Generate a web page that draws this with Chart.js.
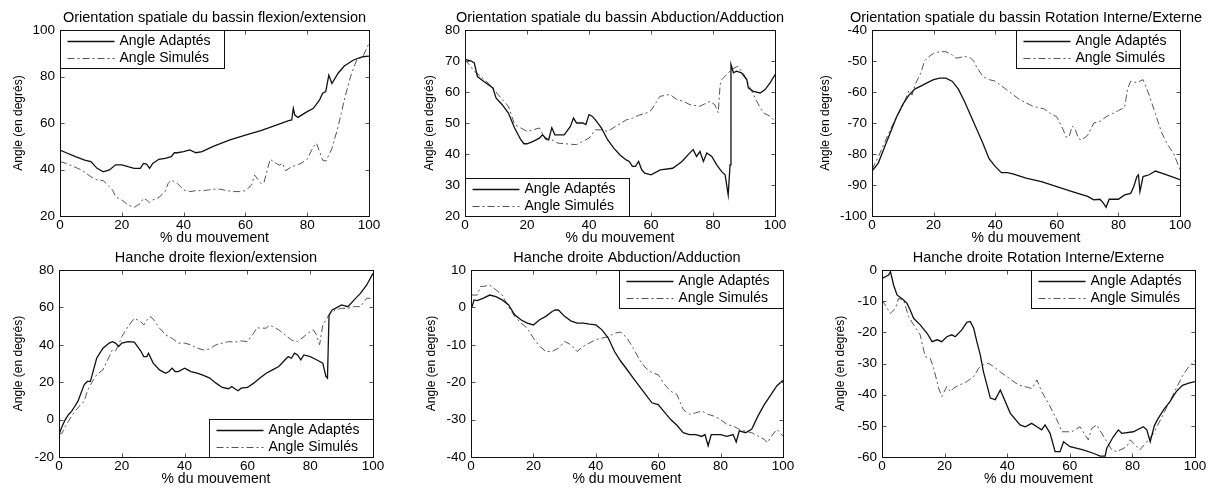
<!DOCTYPE html>
<html lang="fr">
<head>
  <meta charset="UTF-8">
  <title>Orientation spatiale du bassin et hanche droite</title>
  <script src="https://cdn.jsdelivr.net/npm/chart.js"></script>
  <style>
    body { margin: 0; background: #fff; }
    #page { position: relative; width: 1215px; height: 491px; overflow: hidden; }
    #page canvas { position: absolute; }
  </style>
</head>
<body>
<div id="page"></div>

<script>
  // --- data (x = % du mouvement, y = angle en degrés) ---
  const xTicks = [0, 20, 40, 60, 80, 100];
  const seriesLabels = ['Angle Adaptés', 'Angle Simulés'];

  // 1. bassin flexion/extension
  const c1Ticks = [20, 40, 60, 80, 100];
  const c1AdaptX = [0,2,5,8,10,12,14,16,18,20,22,24,26,27,28,29,30,32,34,36,37,38,40,42,44,46,48,50,55,60,65,70,74,75,75.5,76,77,80,82,84,85,86,87,88,90,92,95,98,100];
  const c1AdaptY = [48.4,47.2,45.5,44,43.4,40.5,39,39.8,42,42,41.2,40.5,40.5,42.6,42.3,40.5,42.6,44.4,44.8,45.5,47.2,47.2,47.7,48.4,47.2,47.7,49,50.2,52.7,54.8,56.7,59.1,61,61.3,66.3,63.4,62.4,64.9,66.3,69.9,72.8,73.5,80.6,77,81.4,84.5,87.1,88.5,88.8];
  const c1SimX = [0,2,4,7,10,12,14,16,17,18,20,22,24,26,27,28,29,30,32,34,35,36,38,40,42,44,46,48,50,52,54,56,58,60,62,63,64,65,66,68,70,71,72,73,75,78,80,82,83,85,86,87,88,90,92,94,96,98,100];
  const c1SimY = [43.4,42.6,41.5,39.8,36.9,35.5,35.2,32.6,31.2,28.3,26.9,24.7,23.7,25.4,27.6,26.9,25.7,26.9,28,30.5,34,35.5,34,31.2,30.5,30.9,30.9,31.2,31.5,31.5,30.9,30.5,30.5,30.9,33.3,37.6,35.8,34,34.3,44.4,42.6,41.9,42.6,39.5,41.2,42.6,44.4,49.8,51.3,44,43.6,46.2,49,58.4,69.9,79.9,87.1,88.5,94.3];

  // 2. bassin abduction/adduction
  const c2Ticks = [20, 30, 40, 50, 60, 70, 80];
  const c2AdaptX = [0,2,3,4,6,8,9,10,12,14,16,18,19,20,22,24,25,26,27,28,29,30,32,34,35,36,38,39,40,41,42,44,46,48,50,52,53,54,55,56,57,58,60,63,67,70,72,73.6,74.7,75.8,76.9,78,79.6,81.2,82.8,83.9,84.9,85.5,85.8,86.6,87.6,89.2,90.9,91.4,93,95.2,96.8,98.4,100];
  const c2AdaptY = [70.5,70,69.4,65,63.5,62,61.3,58.1,55.9,53.2,48.4,44.6,43.3,43.3,44.1,45.1,46.2,45.1,44.6,48.5,46.2,46.2,46.2,48.9,51.6,50,50,49.5,52.7,52.2,51.1,48.4,44.6,41.9,39.7,38.1,37.6,36,36,37.6,34.9,33.8,33.3,34.9,35.4,37.6,39.8,41.4,39.2,40.8,37.6,40.3,39.2,36.5,34.3,33.3,26.8,36.5,68.9,66.2,66.7,66.2,64,61.3,60.2,59.7,60.8,62.9,65.6];
  const c2SimX = [0,3,5,8,12,14,16,18,20,22,24,26,28,30,36,38,40,42,44,46,52,54,56,58,60,62.9,66.1,68.3,70.4,72.6,75.8,79,80.6,81.7,82.3,82.8,84.4,86,88,90,92,94.1,96.2,98.4,100];
  const c2SimY = [70.5,66.7,65.1,62.4,57.6,55.4,49.5,48.4,47.3,47.8,48.4,44.6,44.6,43.5,43,44.1,45.1,47.8,47.8,47.3,51,51.5,52.5,53,54,58.6,59.2,57.6,57,55.9,55.4,57,55.9,53.3,62.4,64,65.6,67.3,68.3,65.6,61.3,57,53.3,52.2,50.5];

  // 3. bassin rotation interne/externe
  const c3Ticks = [-100, -90, -80, -70, -60, -50, -40];
  const c3AdaptX = [0,2,4,6,8,10,12,14,16,18,20,22,24,26,28,30,32,34,36,38,40,42,44,46,50,55,60,65,70,72,74,75,76,77,80,82,84,85,86,86.5,87,88,90,92,95,100];
  const c3AdaptY = [-85.5,-83,-78,-73,-68,-64,-61,-59,-58,-57,-56,-55.5,-55.5,-56.5,-59,-63,-67.5,-72,-76.5,-81.5,-84,-86,-86,-86.5,-87.8,-88.9,-90.5,-92.1,-93.7,-94.8,-94.6,-95.7,-97.2,-94.6,-94.6,-93.2,-92.7,-90.5,-87.3,-86.7,-92.1,-87.3,-86.7,-85.5,-86.5,-88.3];
  const c3SimX = [0,2,4,6,8,10,12,13,14,16,17,18,20,22,24,26,27,28,30,32,33,34,36,38,40,42,46,48,50,52,54,56,58,60,62,63,64,65,66,67,68,70,72,74,76,78,80,82,83,84,86,88,90,92,94,96,98,100];
  const c3SimY = [-85,-81,-76.5,-72,-68,-64.5,-59.5,-61,-57.6,-53.5,-50,-49,-47.5,-47,-47,-48,-49,-49,-48.5,-49,-50,-52,-55,-56,-56.5,-58,-61,-62.5,-63.5,-64.5,-65,-65.5,-67,-68,-72,-74.5,-74.5,-71,-72,-75,-75.5,-74,-70,-69.5,-68,-67,-66,-65,-59,-56.5,-57,-56,-61,-67,-73,-77,-80,-85];

  // 4. hanche droite flexion/extension
  const c4Ticks = [-20, 0, 20, 40, 60, 80];
  const c4AdaptX = [0,1,2,3,4,5,6,8,9,10,11,12,13,14,16,17,18,19,20,22,24,26,27,28,28.5,30,32,34,35,36,37,38,40,41,42,44,46,48,50,52,54,55,56,57,58,60,62,64,66,68,70,72,73,74,75,76,77,78,80,82,84,85,85.5,86,87,88,90,92,94,96,98,100];
  const c4AdaptY = [-8,-3.6,0,2.6,4.4,7,9.7,18.6,20.4,20.4,26.6,32.8,35.5,38.2,40.9,41.7,40.9,39.1,40.9,41.7,41.4,36.8,33.7,33.7,35.5,30.2,26.6,24.8,25.7,27.5,25.7,25.7,27.5,26.6,25.7,24.8,23.6,22.2,19.5,17.2,16.5,17.7,16.5,15.4,16.8,17.2,19.5,22.2,24.8,26.6,28.4,32,33.7,32.8,35.5,34.6,32,34.6,33.7,32,30.2,23.1,22.2,56,58.6,59.5,61.3,60.4,64,67.5,72,78.2];
  const c4SimX = [0,1,2,3,4,5,6,7,8,9,10,12,14,15,17,18,19,20,22,24,26,27,28,29,30,32,34,36,38,40,42,44,46,48,50,52,54,56,58,60,62,63,64,66,67,68,70,72,74,76,78,80,81,82,83,84,85,86,88,90,92,94,96,98,100];
  const c4SimY = [-8,-7.2,-3.6,-0.9,1.7,4.4,6.2,8.3,9.7,15.1,18.6,24,26.6,30.2,37.3,36.8,40,44.4,49.8,54.2,52.4,50.6,53.3,55.1,53.8,48.9,45.3,43.5,40.9,40.9,40,38.2,37.3,37.8,40,40.9,41.7,41.4,42.1,41.7,46.2,49.2,48.9,48.9,50.6,49.8,48,45.3,42.6,41.7,44.4,47.1,48,45.3,40,50.6,53.3,56,58.6,59.5,59.5,60.4,60.4,64.9,64.9];

  // 5. hanche droite abduction/adduction
  const c5Ticks = [-40, -30, -20, -10, 0, 10];
  const c5AdaptX = [0,1,2,4,6,8,10,12,14,16,18,20,22,24,26,27,28,30,32,34,36,38,40,42,44,46,48,50,52,54,56,58,60,62,64,66,68,70,72,74,75,76,77,78,80,82,84,85,86,88,90,92,94,96,98,100];
  const c5AdaptY = [-0.7,2,1.8,2.5,3.3,2.9,2,0.7,-2,-3.3,-4.2,-4.7,-3.3,-2.4,-1.1,-0.7,-0.7,-2.4,-3.6,-4.2,-4.2,-4.5,-4.7,-6,-8.2,-11.8,-14.4,-16.6,-18.9,-21.1,-23.3,-25.5,-26,-28,-30,-31.5,-33.5,-34,-34,-34.5,-34,-37,-34,-34,-34,-34.5,-34,-36,-33,-33.5,-32.5,-29,-26,-23.5,-21,-19.5];
  const c5SimX = [0,1,2,3,4,6,8,10,12,14,16,18,20,22,24,26,28,30,32,34,36,38,40,42,44,46,48,50,52,54,56,58,60,62,64,66,68,70,72,74,76,78,80,82,84,86,88,90,92,94,95,96,98,100];
  const c5SimY = [3.3,3.3,3.3,5.6,5.6,6,4.7,3.3,0.2,-2.4,-4.2,-5.5,-8.2,-10.4,-11.8,-11.8,-10.9,-9.1,-10,-11.8,-10.4,-9.5,-8.6,-8.2,-7.8,-6.9,-6.6,-8.2,-10.9,-14,-16.2,-17.5,-18,-20.6,-22.4,-23.3,-27.3,-28.6,-28.2,-27.7,-28.6,-29.1,-30,-31.3,-31.7,-32.6,-33.1,-33.5,-34.4,-35.3,-36.2,-34.8,-32.6,-34.4];

  // 6. hanche droite rotation interne/externe
  const c6Ticks = [-60, -50, -40, -30, -20, -10, 0];
  const c6AdaptX = [0,2.1,2.7,3.7,4.8,6.9,8,9,10.1,12.2,14.4,16,17.6,19.1,20.7,22.3,23.4,25.5,27.1,28.2,29.3,30.3,31.4,32.4,33.5,34.6,36.2,37.8,41,44.1,45.8,47.8,49.5,51,52.1,53.7,55.3,56.9,58,60.1,64.3,67.5,69.7,71.3,71.8,73.9,75.5,76.6,80.3,83.5,84.6,85.7,87,88,90,92,94,96,98,100];
  const c6AdaptY = [-2.7,-1.6,-0.5,-4.8,-8,-9.6,-10.7,-12.8,-15.5,-17.6,-20.3,-23,-22.4,-23,-21.4,-20.8,-21.4,-19.2,-16.8,-16.5,-18.7,-23,-27.2,-32.6,-36.8,-41.1,-41.6,-38.5,-46,-49.7,-50.3,-49.2,-50.3,-51.3,-49.7,-52.4,-58.3,-58.3,-55.1,-56.7,-57.7,-58.8,-59.7,-59.7,-57.2,-53.5,-51.3,-52.4,-51.9,-50.3,-51.3,-55.1,-50,-48,-44.8,-42.2,-39,-37,-36.3,-35.8];
  const c6SimX = [0,2.7,4.3,5.3,6.9,8.5,10.1,12.2,13.8,15.4,16.5,18.1,19.1,20.7,21.8,22.9,25,27.1,29.3,30.9,32.4,34,35.6,38.3,39.9,43.6,47.9,49.5,51,53.2,54.8,56.4,57.4,60.6,63.3,65.9,67,68.6,71.8,73.4,75,78.2,79.3,82.4,85.1,87,88,90,92,94,96,98,100];
  const c6SimY = [-9.6,-13.9,-12.3,-9.1,-9.6,-14.9,-17.6,-20.8,-27.8,-28.3,-31.5,-37.9,-40.6,-37.4,-39,-37.9,-36.8,-35.8,-34.2,-31.5,-30.4,-29.9,-31,-33.1,-34.2,-36.9,-38,-35.3,-39,-42.8,-46,-49.2,-51.9,-51.9,-50.3,-54.5,-50.8,-49.7,-55.1,-57.7,-58.3,-56.7,-54.5,-57.7,-54.5,-52,-50,-46,-42,-38,-34,-31,-29];

  // --- layout: plot box [left, top, right, bottom] in page pixels ---
  const panels = [
    { title: 'Orientation spatiale du bassin flexion/extension', box: [60, 30, 369, 216], ticks: c1Ticks, legend: 'tl', yGap: 41, adapt: [c1AdaptX, c1AdaptY], sim: [c1SimX, c1SimY] },
    { title: 'Orientation spatiale du bassin Abduction/Adduction', box: [465, 30, 775, 216], ticks: c2Ticks, legend: 'bl', yGap: 35, adapt: [c2AdaptX, c2AdaptY], sim: [c2SimX, c2SimY] },
    { title: 'Orientation spatiale du bassin Rotation Interne/Externe', box: [872, 30, 1180, 216], ticks: c3Ticks, legend: 'tr', yGap: 46, adapt: [c3AdaptX, c3AdaptY], sim: [c3SimX, c3SimY] },
    { title: 'Hanche droite flexion/extension', box: [59, 270, 373, 457], ticks: c4Ticks, legend: 'br', yGap: 40, adapt: [c4AdaptX, c4AdaptY], sim: [c4SimX, c4SimY] },
    { title: 'Hanche droite Abduction/Adduction', box: [471, 270, 783, 457], ticks: c5Ticks, legend: 'tr', yGap: 39, adapt: [c5AdaptX, c5AdaptY], sim: [c5SimX, c5SimY] },
    { title: 'Hanche droite Rotation Interne/Externe', box: [882, 270, 1195, 457], ticks: c6Ticks, legend: 'tr', yGap: 41, adapt: [c6AdaptX, c6AdaptY], sim: [c6SimX, c6SimY] }
  ];

  const FONT = '"Liberation Sans", Arial, sans-serif';
  const Y_W = 56, PAD_TOP = 30, PAD_RIGHT = 28, X_H = 30;
  Chart.defaults.font.family = FONT;
  Chart.defaults.color = '#000';

  const pts = (xs, ys) => xs.map((x, i) => ({ x: x, y: ys[i] }));

  // draws the matlab style box, inner ticks, titles and the boxed legend
  const frame = {
    id: 'frame',
    afterDraw(chart, args, o) {
      const { ctx, chartArea: a, scales: { x, y } } = chart;
      const L = Math.round(a.left) + 0.5, T = Math.round(a.top) + 0.5;
      const R = Math.round(a.right) + 0.5, B = Math.round(a.bottom) + 0.5;
      ctx.save();

      ctx.strokeStyle = '#555';
      ctx.lineWidth = 1;
      ctx.beginPath();
      x.ticks.forEach(t => {
        const px = Math.round(x.getPixelForValue(t.value)) + 0.5;
        ctx.moveTo(px, B); ctx.lineTo(px, B - 4);
        ctx.moveTo(px, T); ctx.lineTo(px, T + 4);
      });
      y.ticks.forEach(t => {
        const py = Math.round(y.getPixelForValue(t.value)) + 0.5;
        ctx.moveTo(L, py); ctx.lineTo(L + 4, py);
        ctx.moveTo(R, py); ctx.lineTo(R - 4, py);
      });
      ctx.stroke();

      ctx.strokeStyle = '#111';
      ctx.strokeRect(L, T, R - L, B - T);

      ctx.fillStyle = '#000';
      ctx.textAlign = 'center';
      ctx.textBaseline = 'middle';
      ctx.font = '14.5px ' + FONT;
      ctx.fillText(o.title, (a.left + a.right) / 2, a.top - 12);
      ctx.font = '14px ' + FONT;
      ctx.fillText('% du mouvement', (a.left + a.right) / 2, a.bottom + 22);
      ctx.save();
      ctx.translate(a.left - o.yGap, (a.top + a.bottom) / 2);
      ctx.rotate(-Math.PI / 2);
      ctx.font = '12px ' + FONT;
      ctx.fillText('Angle (en degrés)', 0, 0);
      ctx.restore();

      // legend box
      const W = 164, H = 38;
      const lx = Math.round(o.legend[1] === 'l' ? a.left : a.right - W) + 0.5;
      const ly = Math.round(o.legend[0] === 't' ? a.top : a.bottom - H) + 0.5;
      ctx.fillStyle = '#fff';
      ctx.fillRect(lx, ly, W, H);
      ctx.strokeStyle = '#111';
      ctx.lineWidth = 1;
      ctx.strokeRect(lx, ly, W, H);
      ctx.textAlign = 'left';
      ctx.font = '14px ' + FONT;
      chart.data.datasets.forEach((ds, i) => {
        const yy = ly + 11 + i * 17;
        ctx.strokeStyle = ds.borderColor;
        ctx.lineWidth = ds.borderWidth;
        ctx.setLineDash(ds.borderDash || []);
        ctx.beginPath();
        ctx.moveTo(lx + 7, yy);
        ctx.lineTo(lx + 54, yy);
        ctx.stroke();
        ctx.setLineDash([]);
        ctx.fillStyle = '#000';
        ctx.fillText(ds.label, lx + 59, yy);
      });
      ctx.restore();
    }
  };

  const page = document.getElementById('page');

  panels.forEach(p => {
    const [L, T, R, B] = p.box;
    const canvas = document.createElement('canvas');
    const w = (R - L) + Y_W + PAD_RIGHT;
    const h = (B - T) + PAD_TOP + X_H;
    canvas.width = w;
    canvas.height = h;
    canvas.style.width = w + 'px';
    canvas.style.height = h + 'px';
    canvas.style.left = (L - Y_W) + 'px';
    canvas.style.top = (T - PAD_TOP) + 'px';
    page.appendChild(canvas);

    new Chart(canvas.getContext('2d'), {
      type: 'line',
      data: {
        datasets: [
          {
            label: seriesLabels[0],
            data: pts(p.adapt[0], p.adapt[1]),
            borderColor: '#111',
            borderWidth: 1.3
          },
          {
            label: seriesLabels[1],
            data: pts(p.sim[0], p.sim[1]),
            borderColor: '#555',
            borderWidth: 1,
            borderDash: [7, 3, 2, 3]
          }
        ]
      },
      options: {
        responsive: false,
        animation: false,
        events: [],
        layout: { padding: { left: 0, top: PAD_TOP, right: PAD_RIGHT, bottom: 0 } },
        elements: { point: { radius: 0 }, line: { tension: 0 } },
        scales: {
          x: {
            type: 'linear',
            min: xTicks[0],
            max: xTicks[xTicks.length - 1],
            grid: { display: false, drawTicks: false },
            border: { display: false },
            ticks: { font: { size: 13.5 }, padding: 1, maxRotation: 0, autoSkip: false },
            afterBuildTicks: s => { s.ticks = xTicks.map(v => ({ value: v })); },
            afterFit: s => { s.height = X_H; }
          },
          y: {
            type: 'linear',
            min: p.ticks[0],
            max: p.ticks[p.ticks.length - 1],
            grid: { display: false, drawTicks: false },
            border: { display: false },
            ticks: { font: { size: 13.5 }, padding: 5, autoSkip: false },
            afterBuildTicks: s => { s.ticks = p.ticks.map(v => ({ value: v })); },
            afterFit: s => { s.width = Y_W; }
          }
        },
        plugins: {
          legend: { display: false },
          tooltip: { enabled: false },
          frame: { title: p.title, legend: p.legend, yGap: p.yGap }
        }
      },
      plugins: [frame]
    });
  });
</script>
</body>
</html>
